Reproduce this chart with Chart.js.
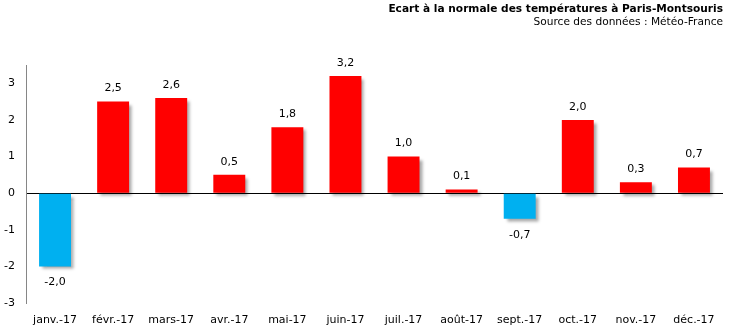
<!DOCTYPE html>
<html><head><meta charset="utf-8">
<script src="https://cdn.jsdelivr.net/npm/chart.js@4/dist/chart.umd.min.js"></script>
<style>html,body{margin:0;padding:0;background:#fff}#wrap{width:730px;height:326px;position:relative}</style>
</head><body><div id="wrap"><canvas id="c" width="730" height="326"></canvas></div>
<script>
const categories = ["janv.-17","févr.-17","mars-17","avr.-17","mai-17","juin-17","juil.-17","août-17","sept.-17","oct.-17","nov.-17","déc.-17"];
const ecarts = [-2.0, 2.5, 2.6, 0.5, 1.8, 3.2, 1.0, 0.1, -0.7, 2.0, 0.3, 0.7];
const yTicks = [-3, -2, -1, 0, 1, 2, 3];
const titleText = "Ecart à la normale des températures à Paris-Montsouris";
const subtitleText = "Source des données : Météo-France";

const FONT = "'DejaVu Sans', Verdana, sans-serif";

const shadowPlugin = {
  id: 'shadow',
  beforeDatasetDraw(chart) {
    const ctx = chart.ctx; ctx.save();
    ctx.shadowColor = 'rgba(0,0,0,0.35)';
    ctx.shadowBlur = 3; ctx.shadowOffsetX = 3; ctx.shadowOffsetY = 3;
  },
  afterDatasetDraw(chart) { chart.ctx.restore(); }
};

const labelPlugin = {
  id: 'vlabels',
  afterDatasetsDraw(chart) {
    const ctx = chart.ctx; ctx.save();
    ctx.font = "11px " + FONT; ctx.fillStyle = '#000';
    ctx.textAlign = 'center'; ctx.textBaseline = 'middle';
    const meta = chart.getDatasetMeta(0);
    meta.data.forEach((bar, i) => {
      const v = ecarts[i];
      const txt = v.toFixed(1).replace('.', ',');
      const y = v >= 0 ? bar.y - 13 : bar.y + 16;
      ctx.fillText(txt, bar.x, y);
    });
    ctx.restore();
  }
};

const titlePlugin = {
  id: 'rtitle',
  afterDraw(chart) {
    const ctx = chart.ctx; ctx.save();
    ctx.textAlign = 'right'; ctx.textBaseline = 'middle'; ctx.fillStyle = '#000';
    ctx.font = "bold 10.6px " + FONT;
    ctx.fillText(titleText, 723, 9);
    ctx.font = "10.6px " + FONT;
    ctx.fillText(subtitleText, 723, 22);
    ctx.restore();
  }
};

new Chart(document.getElementById('c'), {
  type: 'bar',
  data: {
    labels: categories,
    datasets: [{
      data: ecarts,
      backgroundColor: ecarts.map(v => v < 0 ? '#00B0F0' : '#FF0000'),
      borderWidth: 0,
      barPercentage: 0.55,
      categoryPercentage: 1.0
    }]
  },
  options: {
    responsive: false,
    animation: false,
    layout: { padding: { top: 65, right: 7, left: 0, bottom: 0 } },
    plugins: { legend: { display: false }, tooltip: { enabled: false }, title: { display: false } },
    scales: {
      x: {
        grid: { display: false },
        border: { display: false },
        ticks: { font: { family: FONT, size: 11 }, color: '#000', maxRotation: 0, autoSkip: false, padding: 3 },
        afterFit(s) { s.height = 23; }
      },
      y: {
        min: -3, max: 3.5,
        afterBuildTicks(s) { s.ticks = yTicks.map(v => ({ value: v })); },
        grid: {
          drawTicks: false,
          color: c => (c.tick && c.tick.value === 0) ? '#000' : 'rgba(0,0,0,0)',
          lineWidth: 1
        },
        border: { display: true, color: '#868686' },
        ticks: { font: { family: FONT, size: 11 }, color: '#000', padding: 11 },
        afterFit(s) { s.width = 26; }
      }
    }
  },
  plugins: [shadowPlugin, labelPlugin, titlePlugin]
});
</script></body></html>
